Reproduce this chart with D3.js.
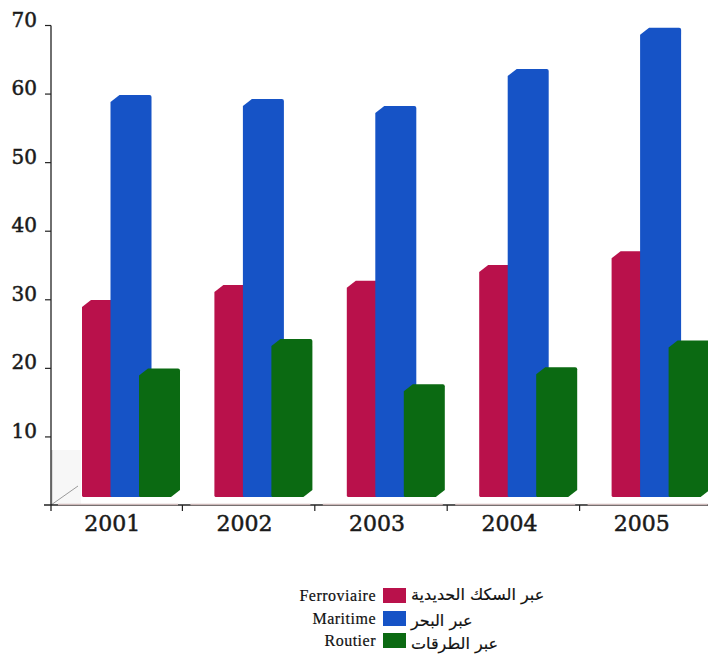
<!DOCTYPE html>
<html>
<head>
<meta charset="utf-8">
<script src="https://cdn.jsdelivr.net/npm/d3@7"></script>
<style>
  html, body { margin: 0; padding: 0; background: #fff; }
  svg { display: block; }
</style>
</head>
<body>
<svg id="chart" width="708" height="654"></svg>
<script>
const years = ["2001", "2002", "2003", "2004", "2005"];
const seriesKeys = ["Ferroviaire", "Maritime", "Routier"];
const seriesArabic = ["عبر السكك الحديدية", "عبر البحر", "عبر الطرقات"];
const seriesColors = ["#b9114b", "#1653c6", "#0b6a12"];
const ferroviaire = [29.9, 32.1, 32.7, 35.0, 37.0];
const maritime = [59.8, 59.2, 58.2, 63.6, 69.6];
const routier = [19.9, 24.2, 17.6, 20.1, 24.0];
const yTicks = [10, 20, 30, 40, 50, 60, 70];
const seriesValues = [ferroviaire, maritime, routier];

const svg = d3.select("#chart");

const y = d3.scaleLinear().domain([0, 70]).range([505, 25]);
const x0 = d3.scaleBand().domain(years).range([50, 712]).padding(0);
const xs = d3.scalePoint().domain(seriesKeys).range([32, 89]);
const barW = 41;
const lift = 8;   // 3D floor offset
const bev = 9, bevH = 7;

// back wall / floor hints
svg.append("rect").attr("x", 51).attr("y", 450).attr("width", 30).attr("height", 55).attr("fill", "#f7f7f7");
svg.append("line").attr("x1", 52).attr("x2", 52).attr("y1", 450).attr("y2", 505)
  .attr("stroke", "#c4c4c4").attr("stroke-width", 1);
svg.append("line").attr("x1", 51).attr("y1", 505).attr("x2", 78).attr("y2", 486)
  .attr("stroke", "#9a9a9a").attr("stroke-width", 1);

// bars
const barPath = (x, top, bottom) => {
  const w = barW;
  return `M${x},${bottom - 1} L${x},${top + bevH} L${x + bev},${top} L${x + w - 2},${top}
          Q${x + w},${top} ${x + w},${top + 2} L${x + w},${bottom - bevH} L${x + w - bev},${bottom}
          L${x + 1},${bottom} Z`;
};

seriesKeys.forEach((key, si) => {
  svg.append("g").selectAll("path").data(years).join("path")
    .attr("d", (yr, i) => barPath(x0(yr) + xs(key), y(seriesValues[si][i]), y(0) - lift))
    .attr("fill", seriesColors[si]);
});

// y axis
const yAxis = d3.axisLeft(y).tickValues(yTicks).tickSize(6).tickPadding(8).tickFormat(d3.format("d"));
const gy = svg.append("g").attr("transform", "translate(51,0)").call(yAxis);
gy.select(".domain").attr("d", "M0,25.5V511").attr("stroke", "#222").attr("stroke-width", 1.3);
gy.selectAll(".tick line").attr("stroke", "#222").attr("stroke-width", 1.2);
gy.selectAll(".tick text")
  .attr("font-family", "DejaVu Serif").attr("font-size", 20).attr("fill", "#1a1a1a")
  .attr("stroke", "#1a1a1a").attr("stroke-width", 0.5)
  .attr("dy", "0.05em").attr("x", -14);

// x axis
const xAxis = d3.axisBottom(x0).tickSize(0).tickFormat(d => d);
const gx = svg.append("g").attr("transform", "translate(0,505)").call(xAxis);
gx.select(".domain").attr("d", "M44,0H708").attr("stroke", "#222").attr("stroke-width", 1.3);
gx.selectAll(".tick text")
  .attr("font-family", "DejaVu Serif").attr("font-size", 22).attr("fill", "#1a1a1a")
  .attr("stroke", "#1a1a1a").attr("stroke-width", 0.5)
  .attr("x", -4).attr("y", 10).attr("dy", "0.71em");
// boundary ticks
svg.append("g").selectAll("line").data(years.slice(0, 4)).join("line")
  .attr("x1", d => x0(d) + x0.bandwidth()).attr("x2", d => x0(d) + x0.bandwidth())
  .attr("y1", 505).attr("y2", 511).attr("stroke", "#222").attr("stroke-width", 1.2);
// lighter floor edge under each group
svg.append("g").selectAll("line").data(years).join("line")
  .attr("x1", d => x0(d) + 8).attr("x2", d => x0(d) + 128)
  .attr("y1", 504.5).attr("y2", 504.5).attr("stroke", "#cdb9b9").attr("stroke-width", 1.6);

// legend
const leg = svg.append("g");
const legY = [588, 611, 633];
seriesKeys.forEach((key, i) => {
  leg.append("rect").attr("x", 383).attr("y", legY[i]).attr("width", 23).attr("height", 15)
    .attr("fill", seriesColors[i]);
  leg.append("text").attr("x", 376).attr("y", legY[i] + 13).attr("text-anchor", "end")
    .attr("font-family", "Liberation Serif").attr("font-size", 16).attr("letter-spacing", 0.5)
    .attr("fill", "#111").attr("stroke", "#111").attr("stroke-width", 0.2).text(key);
  leg.append("text").attr("x", 411).attr("y", legY[i] + 12 + (i === 0 ? 0 : 1 + i * 1.5))
    .attr("direction", "rtl").attr("text-anchor", "end")
    .attr("font-family", "DejaVu Sans").attr("font-size", 16)
    .attr("fill", "#111").attr("stroke", "#111").attr("stroke-width", 0.2).text(seriesArabic[i]);
});
</script>
</body>
</html>
